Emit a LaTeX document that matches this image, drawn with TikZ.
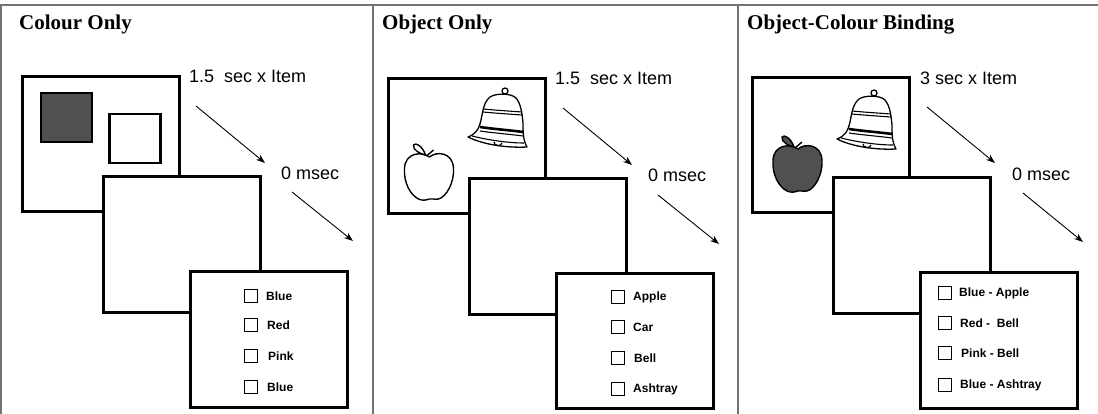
\documentclass[tikz,border=0pt]{standalone}
\usepackage{fontspec}
\setmainfont{Liberation Serif}
\newfontfamily\arialfont{Liberation Sans}
\usetikzlibrary{arrows.meta}
\definecolor{framegray}{RGB}{115,115,115}
\definecolor{darkfill}{RGB}{80,80,80}
\tikzset{
  screen/.style={draw, line width=3pt, fill=white, minimum width=157pt,
    minimum height=135pt, inner sep=0pt, outer sep=0pt},
  paneltitle/.style={anchor=base west, inner sep=0pt,
    font=\bfseries\fontsize{21}{24}\selectfont},
  timing/.style={anchor=base west, inner sep=0pt,
    font=\arialfont\fontsize{18}{20}\selectfont},
  flow/.style={line width=0.9pt, -{Stealth[length=9pt,width=6.5pt]}},
  cbox/.style={draw, line width=1.8pt, minimum size=13pt, inner sep=0pt},
  cblabel/.style={anchor=west, inner sep=0pt,
    font=\arialfont\bfseries\fontsize{12}{14}\selectfont},
  apple/.pic={
    \draw[line width=1.4pt, line join=round, pic actions]
      (1,-19) .. controls (8,-25) and (24,-24) .. (25,-8)
      .. controls (26,6) and (18,21) .. (10,23)
      .. controls (6,24) and (4,22) .. (1,23)
      .. controls (-2,24) and (-6,25) .. (-10,23)
      .. controls (-18,19) and (-25,7) .. (-24,-8)
      .. controls (-23,-23) and (-8,-25) .. (1,-19) -- cycle;
    \draw[line width=1.4pt, line join=round, pic actions]
      (-3,-21) .. controls (-8,-22) and (-16,-26) .. (-15,-31)
      .. controls (-13,-34) and (-6,-30) .. (-3,-21) -- cycle;
    \draw[line width=1.4pt] (-2,-20) -- (5,-26);
  },
  bell/.pic={
    \draw[line width=1.3pt, fill=white] (7,-27) circle (3);
    \draw[line width=1.3pt, fill=white, line join=round]
      (-30,19) .. controls (-22,16) and (-19,11) .. (-17,2)
      .. controls (-15,-8) and (-14,-16) .. (-8,-21)
      .. controls (-2,-25) and (13,-25) .. (18,-20)
      .. controls (23,-14) and (24,-5) .. (25,5)
      .. controls (25,14) and (25,22) .. (29,29)
      .. controls (10,30) and (-14,27) .. (-30,19) -- cycle;
    \draw[line width=1.1pt] (-26,18) .. controls (-10,22) and (10,25) .. (26,25);
    \draw[line width=1.1pt] (-15,-9) .. controls (-5,-8) and (10,-7) .. (24,-6);
    \draw[line width=1.1pt] (-15,-6) .. controls (-5,-5) and (10,-4) .. (24,-3);
    \draw[line width=2.6pt] (-18,9) .. controls (-5,11) and (10,12) .. (25,14);
    \draw[line width=1.1pt] (-18,13) .. controls (-5,15) and (10,16) .. (25,18);
    \draw[line width=1.2pt] (-4,24) .. controls (-4,28) and (3,29) .. (4,25);
  }
}
\begin{document}
\begin{tikzpicture}[x=1pt, y=-1pt]
\useasboundingbox (0,0) rectangle (1098,414);

% panel separators
\draw[framegray, line width=1.3pt] (0,5) -- (1098,5);
\foreach \xx in {1,373,738}
  \draw[framegray, line width=1.3pt] (\xx,5) -- (\xx,414);

% ---------------- Colour Only ----------------
\node[paneltitle] (t1) at (19,30) {Colour Only};
\node[screen] (c1a) at (100.5,144.5) {};
\node[draw, line width=2.6pt, fill=darkfill, minimum width=51pt, minimum height=49pt, inner sep=0pt] (c1dark) at (66.5,117.5) {};
\node[draw, line width=2.6pt, fill=white, minimum width=51pt, minimum height=49pt, inner sep=0pt] (c1white) at (135,138.5) {};
\node[screen] (c1b) at (181.5,244.5) {};
\node[screen] (c1c) at (268.5,339.5) {};
\node[timing] (c1t1) at (189,83) {1.5\ \ sec x Item};
\node[timing] (c1t2) at (281,180) {0 msec};
\coordinate (c1s1) at (196,106); \coordinate (c1e1) at (265,163);
\coordinate (c1s2) at (292,192); \coordinate (c1e2) at (353,241);
\draw[flow] (c1s1) -- (c1e1);
\draw[flow] (c1s2) -- (c1e2);
\node[cbox] (c1b1) at (251,296) {}; \node[cblabel] (c1l1) at (266,296) {Blue};
\node[cbox] (c1b2) at (251,325) {}; \node[cblabel] (c1l2) at (267,325) {Red};
\node[cbox] (c1b3) at (251,356) {}; \node[cblabel] (c1l3) at (268,356) {Pink};
\node[cbox] (c1b4) at (251,387) {}; \node[cblabel] (c1l4) at (267,387) {Blue};

% ---------------- Object Only ----------------
\begin{scope}[xshift=366pt]
\node[paneltitle] (t2) at (16,30) {Object Only};
\node[screen] (o1a) at (100.5,146) {};
\pic[fill=white] at (62.5,176) {apple};
\pic at (132,118) {bell};
\node[screen] (o1b) at (181.5,246.5) {};
\node[screen] (o1c) at (268.5,341) {};
\node[timing] (o1t1) at (189,85) {1.5\ \ sec x Item};
\node[timing] (o1t2) at (282,182) {0 msec};
\coordinate (o1s1) at (197,108); \coordinate (o1e1) at (266,165);
\coordinate (o1s2) at (292,195); \coordinate (o1e2) at (353,244);
\draw[flow] (o1s1) -- (o1e1);
\draw[flow] (o1s2) -- (o1e2);
\node[cbox] (o1b1) at (252,297) {}; \node[cblabel] (o1l1) at (267,297) {Apple};
\node[cbox] (o1b2) at (252,327) {}; \node[cblabel] (o1l2) at (267,327) {Car};
\node[cbox] (o1b3) at (252,358) {}; \node[cblabel] (o1l3) at (268,358) {Bell};
\node[cbox] (o1b4) at (252,389) {}; \node[cblabel] (o1l4) at (267,389) {Ashtray};
\end{scope}

% ---------------- Object-Colour Binding ----------------
\begin{scope}[xshift=730pt]
\node[paneltitle] (t3) at (17,30) {Object-Colour Binding};
\node[screen] (b1a) at (101,145) {};
\pic[fill=darkfill] at (67,168) {apple};
\pic at (137,120) {bell};
\node[screen] (b1b) at (182,245.5) {};
\node[screen] (b1c) at (269,340.5) {};
\node[timing] (b1t1) at (190,85) {3 sec x Item};
\node[timing] (b1t2) at (282,181) {0 msec};
\coordinate (b1s1) at (197,107); \coordinate (b1e1) at (265,163);
\coordinate (b1s2) at (293,193); \coordinate (b1e2) at (353,242);
\draw[flow] (b1s1) -- (b1e1);
\draw[flow] (b1s2) -- (b1e2);
\node[cbox] (b1b1) at (215,293) {}; \node[cblabel] (b1l1) at (229,293) {Blue - Apple};
\node[cbox] (b1b2) at (215,323) {}; \node[cblabel] (b1l2) at (230,323) {Red -\ \ Bell};
\node[cbox] (b1b3) at (215,353) {}; \node[cblabel] (b1l3) at (231,353) {Pink - Bell};
\node[cbox] (b1b4) at (215,385) {}; \node[cblabel] (b1l4) at (230,385) {Blue - Ashtray};
\end{scope}
\end{tikzpicture}
\end{document}
